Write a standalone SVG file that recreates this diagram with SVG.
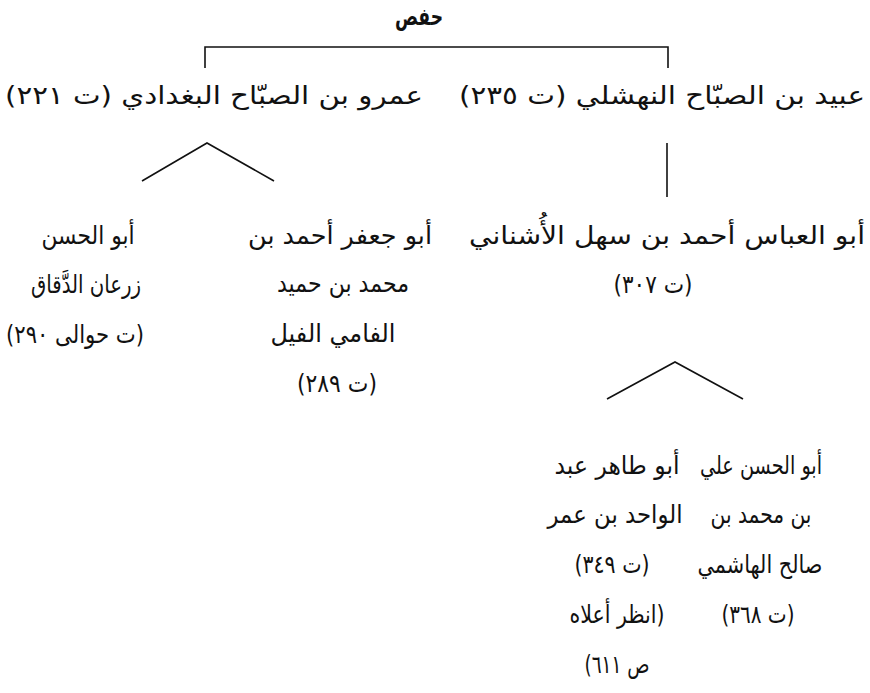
<svg xmlns="http://www.w3.org/2000/svg" width="870" height="693" viewBox="0 0 870 693">
<style>
text{font-family:"DejaVu Sans","Noto Sans",sans-serif;font-size:25px;fill:#111;direction:rtl;unicode-bidi:embed;text-anchor:middle}
.b{font-weight:bold;font-size:24px}
.ln{stroke:#111;stroke-width:1.6;fill:none}
</style>
<rect width="870" height="693" fill="#fff"/>
<g id="connectors">
<polyline class="ln" points="205,68 205,47 668,47 668,68"/>
<polyline class="ln" points="142,181 207,143 274,181"/>
<line class="ln" x1="667" y1="143" x2="667" y2="197"/>
<polyline class="ln" points="607,399 675,362 743,399"/>
</g>
<g id="n-hafs"><text class="b" x="419" y="25" textLength="48" lengthAdjust="spacingAndGlyphs">حفص</text></g>
<g id="n-ubayd"><text x="662" y="104" textLength="406" lengthAdjust="spacingAndGlyphs">عبيد بن الصبّاح النهشلي (ت ٢٣٥)</text></g>
<g id="n-amr"><text x="214" y="104" textLength="418" lengthAdjust="spacingAndGlyphs">عمرو بن الصبّاح البغدادي (ت ٢٢١)</text></g>
<g id="n-abbas">
<text x="667" y="244" textLength="396" lengthAdjust="spacingAndGlyphs">أبو العباس أحمد بن سهل الأُشناني</text>
<text x="653" y="293" textLength="79" lengthAdjust="spacingAndGlyphs">(ت ٣٠٧)</text>
</g>
<g id="n-jafar">
<text x="340" y="244" textLength="184" lengthAdjust="spacingAndGlyphs">أبو جعفر أحمد بن</text>
<text x="343" y="292" textLength="132" lengthAdjust="spacingAndGlyphs">محمد بن حميد</text>
<text x="333" y="342" textLength="125" lengthAdjust="spacingAndGlyphs">الفامي الفيل</text>
<text x="337" y="392" textLength="80" lengthAdjust="spacingAndGlyphs">(ت ٢٨٩)</text>
</g>
<g id="n-hasan-zaran">
<text x="88" y="244" textLength="93" lengthAdjust="spacingAndGlyphs">أبو الحسن</text>
<text x="86" y="293" textLength="110" lengthAdjust="spacingAndGlyphs">زرعان الدَّقاق</text>
<text x="75" y="343" textLength="138" lengthAdjust="spacingAndGlyphs">(ت حوالى ٢٩٠)</text>
</g>
<g id="n-ali">
<text x="761" y="474" textLength="122" lengthAdjust="spacingAndGlyphs">أبو الحسن علي</text>
<text x="761" y="523" textLength="101" lengthAdjust="spacingAndGlyphs">بن محمد بن</text>
<text x="760" y="573" textLength="125" lengthAdjust="spacingAndGlyphs">صالح الهاشمي</text>
<text x="758" y="623" textLength="73" lengthAdjust="spacingAndGlyphs">(ت ٣٦٨)</text>
</g>
<g id="n-tahir">
<text x="617" y="474" textLength="125" lengthAdjust="spacingAndGlyphs">أبو طاهر عبد</text>
<text x="615" y="523" textLength="135" lengthAdjust="spacingAndGlyphs">الواحد بن عمر</text>
<text x="612" y="573" textLength="75" lengthAdjust="spacingAndGlyphs">(ت ٣٤٩)</text>
<text x="617" y="623" textLength="95" lengthAdjust="spacingAndGlyphs">(انظر أعلاه</text>
<text x="617" y="673" textLength="65" lengthAdjust="spacingAndGlyphs">ص ٦١١)</text>
</g>
</svg>
